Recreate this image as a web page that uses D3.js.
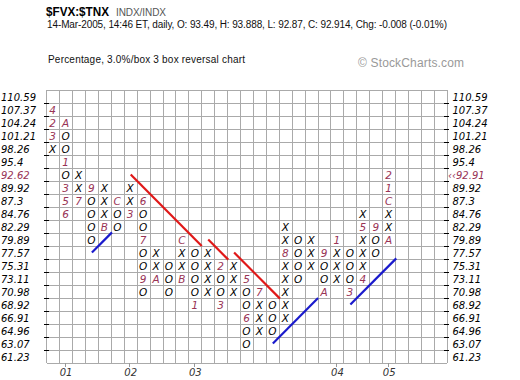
<!DOCTYPE html>
<html>
<head>
<meta charset="utf-8">
<script src="https://cdn.jsdelivr.net/npm/d3@7"></script>
<style>
  body { margin: 0; background: #fff; }
  svg { display: block; }
</style>
</head>
<body>
<div id="chart"></div>
<script>
// box levels, top to bottom
var leftLevels = ['110.59', '107.37', '104.24', '101.21', '98.26', '95.4', '92.62', '89.92', '87.3', '84.76',
    '82.29', '79.89', '77.57', '75.31', '73.11', '70.98', '68.92', '66.91', '64.96', '63.07', '61.23'];
var rightLevels = ['110.59', '107.37', '104.24', '101.21', '98.26', '95.4', '\u2039\u203992.91', '89.92', '87.3', '84.76',
    '82.29', '79.89', '77.57', '75.31', '73.11', '70.98', '68.92', '66.91', '64.96', '63.07', '61.23'];
var currentRow = 6;

// each column: top box price, then the boxes from the top down
var columnTops = ['107.37', '104.24', '92.62', '89.92', '89.92', '87.3', '89.92', '87.3', '77.57', '75.31',
    '79.89', '77.57', '77.57', '75.31', '75.31', '73.11', '70.98', '68.92', '82.29', '79.89',
    '79.89', '77.57', '79.89', '77.57', '84.76', '82.29', '92.62'];
var columnBoxes = ['423X', 'AOO1O356', 'XX7', '9OOOO', 'XXXB', 'COO', 'XX3', '6OO7OO9O', 'XXA', 'OOO',
    'CXXB', 'OOOO1', 'XXXX', '2OO3', 'XXX', '5OO6OO', '7XXX', 'OOO', 'XX8XXXXX', 'OOOO',
    'XXX', '9OOA', '1XXX', 'OOO3', 'X5XXX4', '9OO', '21CXXA'];

// year ticks
var yearLabels = ['01', '02', '03', '04', '05'];
var yearColumns = [1, 6, 11, 22, 26];

// trend lines as [column, row] of box centres
var redLines = [[[6, 6], [11.5, 11.5]], [[12, 11], [13.55, 12.55]], [[14, 12], [17.55, 15.55]]];
var blueLines = [[[3, 12], [4.55, 10.45]], [[17, 19], [20.5, 15.5]], [[23, 16], [26.55, 12.45]]];

var svgWidth = 520;
var svgHeight = 380;
var nCols = 31;
var nRows = leftLevels.length;

var svg = d3.select('#chart')
    .append('svg')
    .attr('width', svgWidth)
    .attr('height', svgHeight);

var x = d3.scaleLinear().domain([0, nCols]).range([46.7, 447.3]);
var y = d3.scaleLinear().domain([0, nRows]).range([90, 363]);

// header
var sans = 'Liberation Sans, Arial, sans-serif';
svg.append('text').attr('x', 46).attr('y', 16)
    .attr('font-family', sans).attr('font-size', 12).attr('font-weight', 'bold')
    .attr('textLength', 63).attr('lengthAdjust', 'spacingAndGlyphs')
    .text('$FVX:$TNX');
svg.append('text').attr('x', 116).attr('y', 16)
    .attr('font-family', sans).attr('font-size', 10).attr('fill', '#555')
    .attr('textLength', 50).attr('lengthAdjust', 'spacing')
    .text('INDX/INDX');
svg.append('text').attr('x', 47).attr('y', 28)
    .attr('font-family', sans).attr('font-size', 10).attr('fill', '#111')
    .attr('textLength', 400).attr('lengthAdjust', 'spacing')
    .text('14-Mar-2005, 14:46 ET, daily, O: 93.49, H: 93.888, L: 92.87, C: 92.914, Chg: -0.008 (-0.01%)');
svg.append('text').attr('x', 48).attr('y', 63)
    .attr('font-family', sans).attr('font-size', 10).attr('fill', '#111')
    .attr('textLength', 197).attr('lengthAdjust', 'spacing')
    .text('Percentage, 3.0%/box 3 box reversal chart');
svg.append('text').attr('x', 358).attr('y', 67)
    .attr('font-family', sans).attr('font-size', 12).attr('fill', '#999')
    .attr('textLength', 106).attr('lengthAdjust', 'spacing')
    .text('\u00a9 StockCharts.com');

// grid
var grid = svg.append('g').attr('stroke', '#aaa').attr('stroke-width', 1).attr('shape-rendering', 'crispEdges');
grid.selectAll('.v').data(d3.range(nCols + 1)).enter().append('line')
    .attr('x1', d => x(d)).attr('x2', d => x(d))
    .attr('y1', y(0)).attr('y2', y(nRows));
grid.selectAll('.h').data(d3.range(nRows + 1)).enter().append('line')
    .attr('x1', x(0)).attr('x2', x(nCols))
    .attr('y1', d => y(d)).attr('y2', d => y(d));

// axis labels and ticks
var axisFont = 'DejaVu Sans, Verdana, sans-serif';
var red = '#993355';
var ticks = svg.append('g').attr('stroke', '#000').attr('shape-rendering', 'crispEdges');
[x(0), x(nCols)].forEach(function(edge) {
    ticks.selectAll(null).data(d3.range(1, nRows)).enter().append('line')
        .attr('x1', edge - 3).attr('x2', edge + 2)
        .attr('y1', d => y(d)).attr('y2', d => y(d));
});

svg.append('g').selectAll('text').data(leftLevels).enter().append('text')
    .attr('x', 1).attr('y', (d, i) => y(i + 1) - 2)
    .attr('font-family', axisFont).attr('font-size', 10).attr('font-style', 'italic')
    .attr('fill', (d, i) => i === currentRow ? red : '#000')
    .text(d => d);

svg.append('g').selectAll('text').data(rightLevels).enter().append('text')
    .attr('x', (d, i) => i === currentRow ? 448 : 452.5).attr('y', (d, i) => y(i + 1) - 2)
    .attr('font-family', axisFont).attr('font-size', 10).attr('font-style', 'italic')
    .attr('fill', (d, i) => i === currentRow ? red : '#000')
    .text(d => d);

// year ticks
svg.append('g').selectAll('line').data(yearColumns).enter().append('line')
    .attr('x1', d => x(d + 0.5) - 1).attr('x2', d => x(d + 0.5) - 1)
    .attr('y1', y(nRows)).attr('y2', y(nRows) + 4)
    .attr('stroke', '#999').attr('shape-rendering', 'crispEdges');
svg.append('g').selectAll('text').data(yearLabels).enter().append('text')
    .attr('x', (d, i) => x(yearColumns[i] + 0.5))
    .attr('y', 376)
    .attr('text-anchor', 'middle')
    .attr('font-family', axisFont).attr('font-size', 10).attr('font-style', 'italic')
    .attr('fill', '#333')
    .text(d => d);

// boxes
var boxes = [];
columnBoxes.forEach(function(s, c) {
    var top = leftLevels.indexOf(columnTops[c]);
    s.split('').forEach(function(ch, k) {
        boxes.push({ col: c, row: top + k, ch: ch });
    });
});

svg.append('g').selectAll('text').data(boxes).enter().append('text')
    .attr('x', d => x(d.col + 0.5) - 0.5)
    .attr('y', d => y(d.row + 0.5) + 4)
    .attr('text-anchor', 'middle')
    .attr('font-family', axisFont).attr('font-size', 10.5).attr('font-style', 'italic')
    .attr('fill', d => (d.ch === 'X' || d.ch === 'O') ? '#000' : red)
    .text(d => d.ch);

// trend lines
function drawLines(data, colour) {
    svg.append('g').selectAll('line').data(data).enter().append('line')
        .attr('x1', d => x(d[0][0] + 0.5)).attr('y1', d => y(d[0][1] + 0.5))
        .attr('x2', d => x(d[1][0] + 0.5)).attr('y2', d => y(d[1][1] + 0.5))
        .attr('stroke', colour).attr('stroke-width', 2.2);
}
drawLines(redLines, '#e01818');
drawLines(blueLines, '#1a1acc');
</script>
</body>
</html>
